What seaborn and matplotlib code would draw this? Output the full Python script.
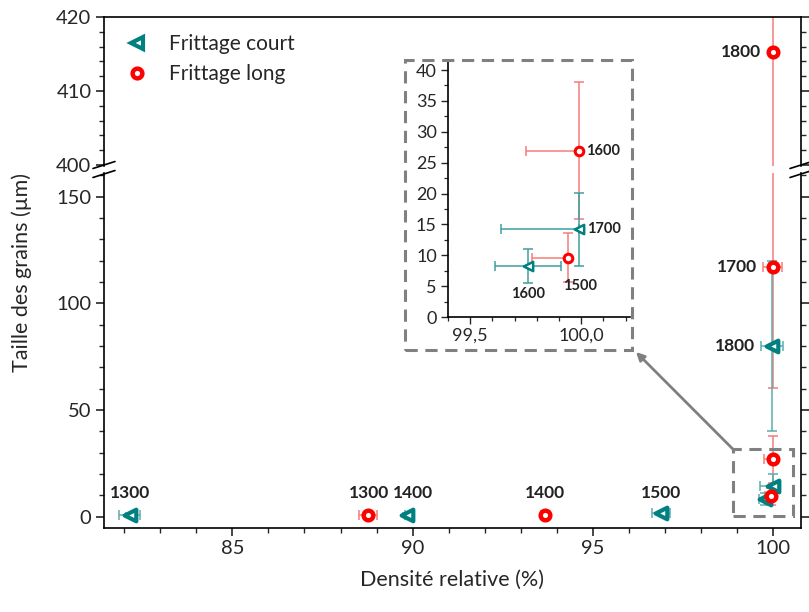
import numpy as np
import matplotlib
matplotlib.use("Agg")
import matplotlib.pyplot as plt
import seaborn as sns
from matplotlib.lines import Line2D
from matplotlib.patches import Rectangle
from matplotlib.ticker import MultipleLocator, FixedLocator, FuncFormatter

# --- data ---
court_T = [1300, 1400, 1500, 1600, 1700, 1800]
court_dens = [82.15, 89.85, 96.9, 99.76, 99.99, 99.97]
court_dens_lo = [0.3, 0.05, 0.25, 0.15, 0.35, 0.3]
court_dens_hi = [0.3, 0.05, 0.25, 0.15, 0.0, 0.3]
court_size = [1.0, 1.0, 1.5, 8.2, 14.2, 80.0]
court_size_err = [0.5, 0.5, 0.5, 2.75, 5.9, 40.0]

long_T = [1300, 1400, 1500, 1600, 1700, 1800]
long_dens = [88.75, 93.67, 99.94, 99.99, 99.98, 99.98]
long_dens_lo = [0.25, 0.1, 0.16, 0.24, 0.25, 0.05]
long_dens_hi = [0.25, 0.1, 0.0, 0.0, 0.25, 0.05]
long_size = [1.0, 1.0, 9.6, 26.9, 117.0, 415.2]
long_size_err = [0.5, 0.5, 4.0, 11.1, 2.0, 355.0]

# points shown in the zoomed inset
inset_T = [1500, 1600, 1700]

teal = "#008080"
red = "#ff0000"
teal_err = "#5aaeae"
red_err = "#f47c7c"
grey = "#808080"

sns.set_style("ticks")
plt.rcParams['font.family'] = ['Lato', 'DejaVu Sans']
plt.rcParams['axes.linewidth'] = 1.2

W, H = 809, 612
fig = plt.figure(figsize=(W / 100, H / 100), dpi=100)

def px(x0, y0, x1, y1):
    # pixel box (top-left origin) -> figure rect
    return [x0 / W, 1 - y1 / H, (x1 - x0) / W, (y1 - y0) / H]

ax_lo = fig.add_axes(px(104, 173, 801, 528))
ax_hi = fig.add_axes(px(104, 17, 801, 166))
ax_in = fig.add_axes(px(448, 62, 630, 317))


def pick(ts, arr, keep):
    return [v for t, v in zip(ts, arr) if t in keep]


def draw(ax, keep, ms_c, ms_l, lw_c, lw_l, ec_teal, ec_red):
    ax.errorbar(pick(long_T, long_dens, keep), pick(long_T, long_size, keep),
                xerr=[pick(long_T, long_dens_lo, keep), pick(long_T, long_dens_hi, keep)],
                yerr=pick(long_T, long_size_err, keep),
                fmt='none', ecolor=ec_red, elinewidth=1.1, capsize=3.5, capthick=1.1, zorder=1)
    ax.errorbar(pick(court_T, court_dens, keep), pick(court_T, court_size, keep),
                xerr=[pick(court_T, court_dens_lo, keep), pick(court_T, court_dens_hi, keep)],
                yerr=pick(court_T, court_size_err, keep),
                fmt='none', ecolor=ec_teal, elinewidth=1.1, capsize=3.5, capthick=1.1, zorder=1)
    sns.scatterplot(x=pick(court_T, court_dens, keep), y=pick(court_T, court_size, keep),
                    marker='<', s=ms_c, color='white', edgecolor=teal, linewidth=lw_c,
                    ax=ax, zorder=3)
    sns.scatterplot(x=pick(long_T, long_dens, keep), y=pick(long_T, long_size, keep),
                    marker='o', s=ms_l, color='white', edgecolor=red, linewidth=lw_l,
                    ax=ax, zorder=4)


for ax in (ax_lo, ax_hi):
    draw(ax, court_T, 70, 48, 3.0, 3.2, teal_err, red_err)
    ax.set_xlim(81.44, 100.77)
    ax.xaxis.set_major_locator(FixedLocator([85, 90, 95, 100]))
    ax.xaxis.set_minor_locator(MultipleLocator(1))
    ax.tick_params(axis='both', which='major', direction='out', length=6, width=1.2,
                   labelsize=14.5, right=True, pad=3)
    ax.tick_params(axis='both', which='minor', direction='out', length=3.5, width=1.0, right=True)
    for s in ax.spines.values():
        s.set_linewidth(1.2)
        s.set_color('black')

ax_lo.set_ylim(-5.3, 161.1)
ax_lo.yaxis.set_major_locator(FixedLocator([0, 50, 100, 150]))
ax_lo.yaxis.set_minor_locator(MultipleLocator(10))
ax_lo.spines['top'].set_visible(False)
ax_lo.set_xlabel("Densité relative (%)", fontsize=15.5, labelpad=9)

ax_hi.set_ylim(399.85, 420)
ax_hi.yaxis.set_major_locator(FixedLocator([400, 410, 420]))
ax_hi.yaxis.set_minor_locator(MultipleLocator(2))
ax_hi.spines['bottom'].set_visible(False)
ax_hi.tick_params(axis='x', which='both', bottom=False, labelbottom=False)

fig.text(22 / W, 1 - 272 / H, "Taille des grains (µm)", rotation=90,
         ha='center', va='center', fontsize=15.5)

# break marks
for xb in (104, 801):
    for yb in (165, 174):
        fig.add_artist(Line2D([(xb - 11) / W, (xb + 11) / W],
                              [1 - (yb + 3.5) / H, 1 - (yb - 3.5) / H],
                              color='black', lw=1.2))

# point labels on main plot
main_labels = [
    (ax_lo, court_dens, court_size, court_T, 1300, (0, 12), 'center', 'baseline'),
    (ax_lo, long_dens, long_size, long_T, 1300, (1, 12), 'center', 'baseline'),
    (ax_lo, court_dens, court_size, court_T, 1400, (4, 12), 'center', 'baseline'),
    (ax_lo, long_dens, long_size, long_T, 1400, (0, 12), 'center', 'baseline'),
    (ax_lo, court_dens, court_size, court_T, 1500, (0, 11), 'center', 'baseline'),
    (ax_lo, court_dens, court_size, court_T, 1800, (-12, 0), 'right', 'center'),
    (ax_lo, long_dens, long_size, long_T, 1700, (-11, 0), 'right', 'center'),
    (ax_hi, long_dens, long_size, long_T, 1800, (-8, 0), 'right', 'center'),
]
for ax, xs, ys, ts, t, off, ha, va in main_labels:
    i = ts.index(t)
    ax.annotate(str(t), (xs[i], ys[i]), xytext=off, textcoords='offset points',
                ha=ha, va=va, fontsize=12.5, fontweight='bold', color='#222222')

# legend
handles = [
    Line2D([], [], ls='none', marker='<', ms=8.5, mfc='white', mec=teal, mew=3.0),
    Line2D([], [], ls='none', marker='o', ms=7, mfc='white', mec=red, mew=3.2),
]
fig.legend(handles, ["Frittage court", "Frittage long"], loc='upper left',
           bbox_to_anchor=(127 / W, 1 - 34 / H), frameon=False, fontsize=15,
           handletextpad=1.0, labelspacing=0.5, borderaxespad=0, borderpad=0,
           handlelength=1.0)

# inset
draw(ax_in, inset_T, 45, 38, 1.8, 2.2, "#3f9f9f", red_err)
ax_in.set_xlim(99.4, 100.22)
ax_in.set_ylim(0, 41.3)
ax_in.xaxis.set_major_locator(FixedLocator([99.5, 100.0]))
ax_in.xaxis.set_minor_locator(MultipleLocator(0.1))
ax_in.xaxis.set_major_formatter(FuncFormatter(lambda v, p: f"{v:.1f}".replace('.', ',')))
ax_in.yaxis.set_major_locator(MultipleLocator(5))
ax_in.yaxis.set_minor_locator(MultipleLocator(2.5))
ax_in.tick_params(axis='both', which='major', direction='out', length=5, width=1.0,
                  labelsize=13, pad=3)
ax_in.tick_params(axis='both', which='minor', direction='out', length=3, width=0.9)
ax_in.spines['top'].set_visible(False)
ax_in.spines['right'].set_visible(False)
for s in ('left', 'bottom'):
    ax_in.spines[s].set_linewidth(1.2)
    ax_in.spines[s].set_color('black')

inset_labels = [
    (long_dens, long_size, long_T, 1600, (5, 0), 'left', 'center'),
    (court_dens, court_size, court_T, 1700, (6, 0), 'left', 'center'),
    (court_dens, court_size, court_T, 1600, (0, -20), 'center', 'center'),
    (long_dens, long_size, long_T, 1500, (9, -20), 'center', 'center'),
]
for xs, ys, ts, t, off, ha, va in inset_labels:
    i = ts.index(t)
    ax_in.annotate(str(t), (xs[i], ys[i]), xytext=off, textcoords='offset points',
                   ha=ha, va=va, fontsize=10.5, fontweight='bold', color='#222222')

# dashed frames
fig.add_artist(Rectangle((405 / W, 1 - 350 / H), 227 / W, 290 / H, transform=fig.transFigure,
                         fill=False, ec=grey, lw=2.2, ls=(0, (4, 2.5))))
ax_lo.add_patch(Rectangle((98.88, 0.3), 100.54 - 98.88, 31.4, fill=False, ec=grey,
                          lw=2.2, ls=(0, (4, 2.5)), clip_on=False, zorder=5))
ax_lo.annotate("", xy=(636 / W, 1 - 352 / H), xycoords='figure fraction',
               xytext=(98.88, 31.7), textcoords='data',
               arrowprops=dict(arrowstyle='-|>', color=grey, lw=2, mutation_scale=12,
                               shrinkA=0, shrinkB=0))

for ax in (ax_lo, ax_hi, ax_in):
    ax.set_xlabel(ax.get_xlabel())
    if ax is not ax_lo:
        ax.set_xlabel("")
    ax.set_ylabel("")
    if ax.get_legend():
        ax.get_legend().remove()

fig.savefig("out.png", dpi=100)
